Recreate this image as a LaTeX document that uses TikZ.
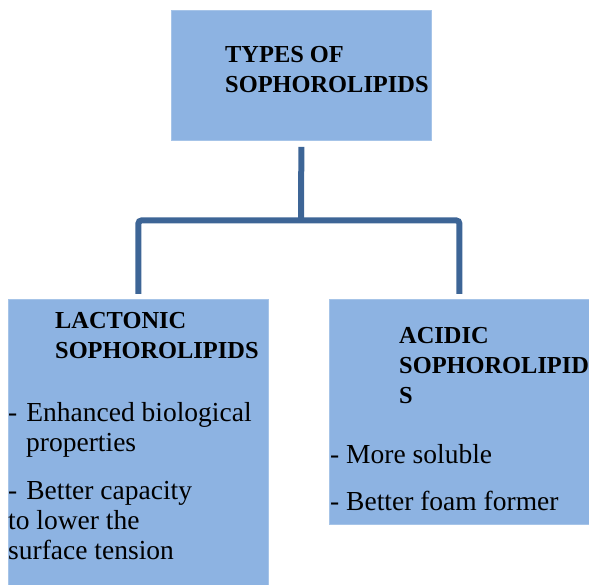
\documentclass[tikz,border=0pt]{standalone}
\usepackage{fontspec}
\setmainfont{Liberation Serif}
\usepackage{xcolor}
\definecolor{boxfill}{RGB}{141,179,226}
\definecolor{boxline}{RGB}{166,196,232}
\definecolor{linkblue}{RGB}{61,101,150}

\begin{document}
\begin{tikzpicture}[x=1pt,y=-1pt,
        typebox/.style={fill=boxfill, draw=boxline, line width=0.8pt, anchor=north west, minimum width=260pt, inner sep=0pt},
        head/.style={font=\fontsize{24.4}{30}\selectfont\bfseries, align=left, anchor=base west, inner sep=0pt},
        body/.style={font=\fontsize{27.5}{30}\selectfont, align=left, anchor=base west, inner sep=0pt},
        link/.style={draw=linkblue, line width=6pt}]
        \useasboundingbox (0,0) rectangle (589,585);
        % Top box
        \node[typebox, minimum height=130pt] (types) at (171,10) {};
        % (base = last line of the text)
        \node[head] (typestxt) at ([shift={(54,83)}]types.north west) {TYPES OF\\SOPHOROLIPIDS};
        % Lactonic box
        \node[typebox, minimum height=286pt] (lact) at (8,299) {};
        \node[head] (lacthead) at ([shift={(47,59)}]lact.north west) {LACTONIC\\SOPHOROLIPIDS};
        \node[body] (lactbody) at ([shift={(0,260)}]lact.north west) {-\hspace{9pt}Enhanced biological\\\hspace*{18pt}properties\\[18pt]-\hspace{9pt}Better capacity\\to lower the\\surface tension};
        % Acidic box
        \node[typebox, minimum height=225pt] (acid) at (329,299) {};
        \node[head] (acidhead) at ([shift={(70,104)}]acid.north west) {ACIDIC\\SOPHOROLIPID\\S};
        \node[body] (acidbody) at ([shift={(1,211)}]acid.north west) {- More soluble\\[17pt]- Better foam former};
        % Connectors
        \coordinate (split) at (301,220.5);
        \draw[link, shorten <=6pt] (types.south) -- (split);
        \draw[link, rounded corners=3pt, shorten <=5pt, shorten >=5pt] (lact.north) |- (split) -| (acid.north);
    \end{tikzpicture}
\end{document}
